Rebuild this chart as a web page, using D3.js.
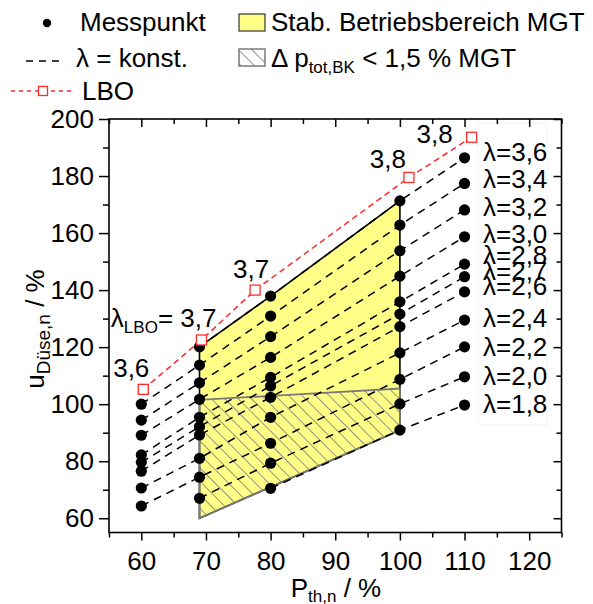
<!DOCTYPE html>
<html><head><meta charset="utf-8">
<script src="https://cdn.jsdelivr.net/npm/d3@7"></script>
<style>
body{margin:0;background:#fff}
svg{display:block}
text{font-family:"Liberation Sans",Arial,Helvetica,sans-serif;fill:#000}
</style>
</head><body>
<svg id="c" width="593" height="604"></svg>
<script>
// ---------- data ----------
const lambdas = [3.6, 3.4, 3.2, 3.0, 2.8, 2.7, 2.6, 2.4, 2.2, 2.0, 1.8];
const pth = [60, 69, 80, 100, 110];
const u60  = [null, 100.0, 94.4, 89.1, 82.2, 79.6, 76.5, 70.6, 64.3, null, null];
const u69  = [120.1, 113.7, 107.5, 101.7, 95.4, 92.1, 89.2, 81.0, 74.4, 67.0, null];
const u80  = [137.9, 130.9, 123.7, 116.4, 109.4, 106.4, 102.4, 95.4, 86.3, 79.3, 70.5];
const u100 = [171.3, 162.8, 153.8, 144.9, 135.9, 131.6, 127.2, 118.0, 108.7, 100.1, 90.9];
const u110 = [186.4, 177.4, 168.1, 158.7, 149.1, 144.7, 139.4, 129.5, 120.1, 109.6, 99.7];
const uByColumn = [u60, u69, u80, u100, u110];

const lboP = [60.3, 69.3, 77.6, 101.4, 111.1];
const lboU = [105.2, 122.5, 140.0, 179.5, 193.6];
const lboLambda = ["3,6", "3,7", "3,7", "3,8", "3,8"];

const stableP = [69, 69, 80, 100, 100];
const stableU = [60, 120.1, 137.9, 171.3, 90.9];
const hatchP = [69, 100, 100, 69];
const hatchU = [101.5, 105.5, 90.9, 60];

const xTicks = [60, 70, 80, 90, 100, 110, 120];
const xMinor = [55, 65, 75, 85, 95, 105, 115, 125];
const yTicks = [60, 80, 100, 120, 140, 160, 180, 200];
const yMinor = [70, 90, 110, 130, 150, 170, 190];

// ---------- layout ----------
const svg = d3.select("#c");
const X0 = 109, X1 = 561.5, Y0 = 532.5, Y1 = 119;
const x = d3.scaleLinear([55, 125], [X0, X1]);
const y = d3.scaleLinear([55, 200], [Y0, Y1]);
const FS = 26, SFS = 17;

const defs = svg.append("defs");
const pat = defs.append("pattern").attr("id", "hatch").attr("patternUnits", "userSpaceOnUse")
  .attr("width", 9.5).attr("height", 9.5).attr("patternTransform", "rotate(-45)");
pat.append("line").attr("x1", 0).attr("y1", 0).attr("x2", 0).attr("y2", 9.5)
  .attr("stroke", "#7a7a7a").attr("stroke-width", 1.6);

// stable region (yellow)
const poly = (ps, us) => ps.map((p, i) => [x(p), y(us[i])]);
svg.append("path").attr("d", "M" + poly(stableP, stableU).join("L") + "Z")
  .attr("fill", "#ffff88").attr("stroke", "#000").attr("stroke-width", 1.6);
// hatched region
svg.append("path").attr("d", "M" + poly(hatchP, hatchU).join("L") + "Z")
  .attr("fill", "url(#hatch)").attr("stroke", "#7a7a7a").attr("stroke-width", 1.8);

// lambda = const lines
const line = d3.line().x(d => x(d[0])).y(d => y(d[1]));
lambdas.forEach((l, i) => {
  const pts = pth.map((p, j) => [p, uByColumn[j][i]]).filter(d => d[1] != null);
  svg.append("path").attr("d", line(pts)).attr("fill", "none")
    .attr("stroke", "#000").attr("stroke-width", 1.5).attr("stroke-dasharray", "8,6");
});

// LBO line
const lboPts = lboP.map((p, i) => [p, lboU[i]]);
svg.append("path").attr("d", line(lboPts)).attr("fill", "none")
  .attr("stroke", "#ff2a2a").attr("stroke-width", 1.5).attr("stroke-dasharray", "6,4");

// measurement points
pth.forEach((p, j) => {
  uByColumn[j].forEach(u => {
    if (u == null) return;
    svg.append("circle").attr("cx", x(p)).attr("cy", y(u)).attr("r", 5.6).attr("fill", "#000");
  });
});

// LBO squares
svg.selectAll("rect.lbo").data(lboPts).join("rect").attr("class", "lbo")
  .attr("x", d => x(d[0]) - 5).attr("y", d => y(d[1]) - 5).attr("width", 10).attr("height", 10)
  .attr("fill", "#fff").attr("stroke", "#ff2a2a").attr("stroke-width", 1.3);

// LBO labels
const lboDx = [-12, 15, -4, -21, -37];
const lboDy = [-12, -13, -12, -9, 6];
lboPts.forEach((d, i) => {
  const t = svg.append("text").attr("x", x(d[0]) + lboDx[i]).attr("y", y(d[1]) + lboDy[i])
    .attr("font-size", FS).attr("text-anchor", i === 1 ? "end" : "middle");
  if (i === 1) {
    t.append("tspan").text("λ");
    t.append("tspan").attr("font-size", SFS).attr("dy", 6).text("LBO");
    t.append("tspan").attr("dy", -6).text("= " + lboLambda[i]);
  } else {
    t.text(lboLambda[i]);
  }
});

// faint label box
svg.append("rect").attr("x", 478).attr("y", 123).attr("width", 69).attr("height", 302)
  .attr("fill", "none").attr("stroke", "#f4f4f4").attr("stroke-width", 1);

// lambda labels
const lamDy = [3, 5, 6, 6, 0, 3, 3, 7, 9, 8, 8];
lambdas.forEach((l, i) => {
  svg.append("text").attr("x", 483).attr("y", y(u110[i]) + lamDy[i]).attr("font-size", FS)
    .text("λ=" + d3.format(".1f")(l).replace(".", ","));
});

// ---------- axes ----------
function styleAxis(g) {
  g.select(".domain").remove();
  g.selectAll("line").attr("stroke", "#000").attr("stroke-width", 1.5);
  g.selectAll("text").attr("font-size", FS).attr("fill", "#000")
    .attr("font-family", "'Liberation Sans',Arial,sans-serif");
}
const fmt = d3.format("d");
svg.append("g").attr("transform", `translate(0,${Y0})`)
  .call(d3.axisBottom(x).tickValues(xTicks).tickSize(8).tickPadding(11.5).tickFormat(fmt)).call(styleAxis);
svg.append("g").attr("transform", `translate(0,${Y0})`)
  .call(d3.axisBottom(x).tickValues(xMinor).tickSize(5).tickFormat("")).call(styleAxis);
svg.append("g").attr("transform", `translate(0,${Y1})`)
  .call(d3.axisTop(x).tickValues(xTicks).tickSize(-8).tickFormat("")).call(styleAxis);
svg.append("g").attr("transform", `translate(0,${Y1})`)
  .call(d3.axisTop(x).tickValues(xMinor).tickSize(-5).tickFormat("")).call(styleAxis);
svg.append("g").attr("transform", `translate(${X0},0)`)
  .call(d3.axisLeft(y).tickValues(yTicks).tickSize(10).tickPadding(5).tickFormat(fmt)).call(styleAxis);
svg.append("g").attr("transform", `translate(${X0},0)`)
  .call(d3.axisLeft(y).tickValues(yMinor).tickSize(6).tickFormat("")).call(styleAxis);
svg.append("g").attr("transform", `translate(${X1},0)`)
  .call(d3.axisRight(y).tickValues(yTicks).tickSize(-8).tickFormat("")).call(styleAxis);
svg.append("g").attr("transform", `translate(${X1},0)`)
  .call(d3.axisRight(y).tickValues(yMinor).tickSize(-5).tickFormat("")).call(styleAxis);
svg.append("rect").attr("x", X0).attr("y", Y1).attr("width", X1 - X0).attr("height", Y0 - Y1)
  .attr("fill", "none").attr("stroke", "#000").attr("stroke-width", 1.6);

// axis titles
const xt = svg.append("text").attr("x", 336).attr("y", 597).attr("font-size", FS).attr("text-anchor", "middle");
xt.append("tspan").text("P");
xt.append("tspan").attr("font-size", SFS).attr("dy", 5).text("th,n");
xt.append("tspan").attr("dy", -5).text(" / %");

const yt = svg.append("text").attr("transform", "translate(44,329) rotate(-90)")
  .attr("font-size", FS).attr("text-anchor", "middle");
yt.append("tspan").text("u");
yt.append("tspan").attr("font-size", 19).attr("dy", 6).text("Düse,n");
yt.append("tspan").attr("dy", -6).text(" / %");

// ---------- legend ----------
const lg = svg.append("g");
lg.append("circle").attr("cx", 47).attr("cy", 23).attr("r", 4.2).attr("fill", "#000");
lg.append("text").attr("x", 80).attr("y", 31).attr("font-size", FS).text("Messpunkt");
lg.append("rect").attr("x", 239).attr("y", 14).attr("width", 26).attr("height", 17)
  .attr("fill", "#ffff88").attr("stroke", "#333").attr("stroke-width", 1.2);
lg.append("text").attr("x", 271).attr("y", 31).attr("font-size", FS).text("Stab. Betriebsbereich MGT");

lg.append("line").attr("x1", 26).attr("x2", 63).attr("y1", 61).attr("y2", 61)
  .attr("stroke", "#000").attr("stroke-width", 1.5).attr("stroke-dasharray", "7,6");
lg.append("text").attr("x", 76).attr("y", 67).attr("font-size", FS).text("λ = konst.");
lg.append("rect").attr("x", 239).attr("y", 49).attr("width", 26).attr("height", 17)
  .attr("fill", "url(#hatch)").attr("stroke", "#7a7a7a").attr("stroke-width", 1.5);
const lt = lg.append("text").attr("x", 271).attr("y", 67).attr("font-size", FS);
lt.append("tspan").text("Δ p");
lt.append("tspan").attr("font-size", SFS).attr("dy", 6).text("tot,BK");
lt.append("tspan").attr("dy", -6).text(" < 1,5 % MGT");

lg.append("line").attr("x1", 11).attr("x2", 73).attr("y1", 91).attr("y2", 91)
  .attr("stroke", "#ff2a2a").attr("stroke-width", 1.5).attr("stroke-dasharray", "4,4");
lg.append("rect").attr("x", 38.5).attr("y", 86.5).attr("width", 9).attr("height", 9)
  .attr("fill", "#fff").attr("stroke", "#ff2a2a").attr("stroke-width", 1.3);
lg.append("text").attr("x", 82).attr("y", 100).attr("font-size", FS).text("LBO");
</script>
</body></html>
